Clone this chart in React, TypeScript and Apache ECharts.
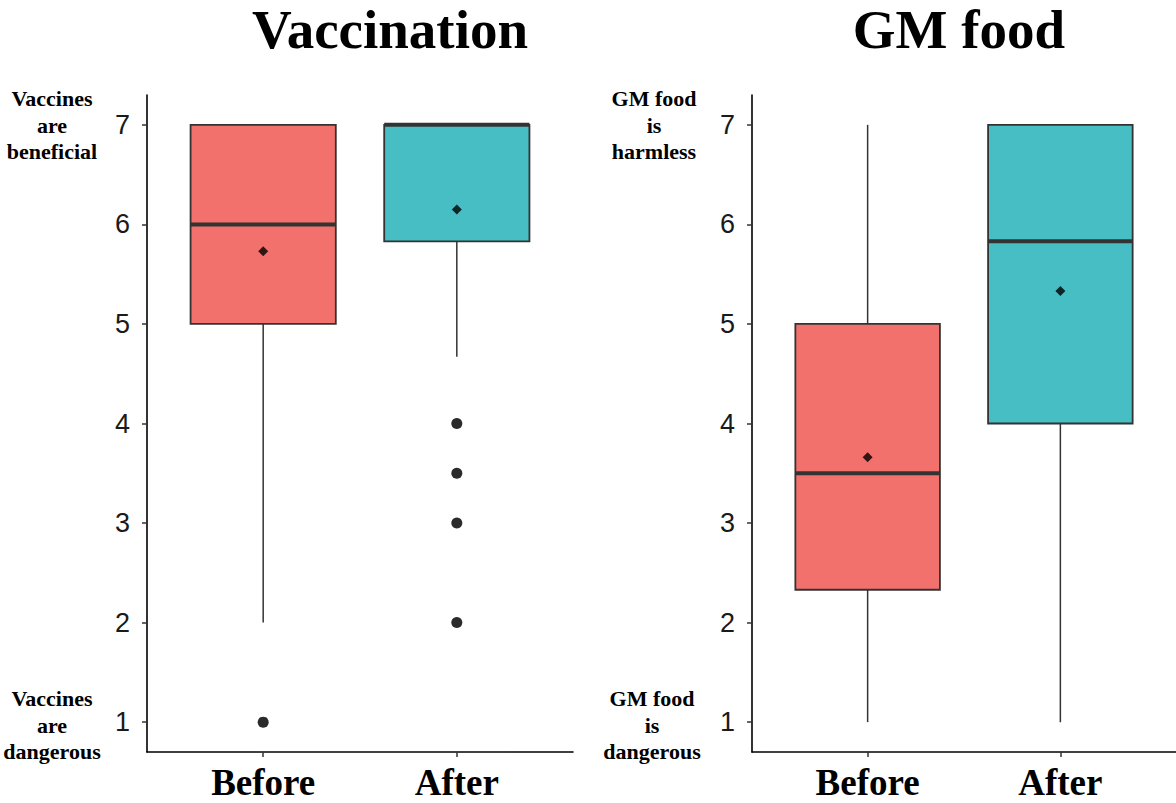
import React, { useEffect, useRef } from "react";
import * as echarts from "echarts";

// ---- data ----
const categories = ["Before", "After"];
const xPositions = [1, 2];
// [lower whisker, Q1, median, Q3, upper whisker]
const vaccinationBoxes = [
  [2, 5, 6, 7, 7],
  [4.67, 5.83, 7, 7, 7],
];
const gmBoxes = [
  [1, 2.33, 3.5, 5, 7],
  [1, 4, 5.83, 7, 7],
];
const vaccinationMeans = [5.73, 6.15];
const gmMeans = [3.66, 5.33];
// outliers: [x position, value]
const vaccinationOutliers = [
  [1, 1],
  [2, 4],
  [2, 3.5],
  [2, 3],
  [2, 2],
];
const gmOutliers: number[][] = [];
const yTicks = [1, 2, 3, 4, 5, 6, 7];
const boxColors = ["#F2716C", "#46BEC4"];

const SERIF = '"Liberation Serif", "Times New Roman", serif';
const SANS = '"Liberation Sans", Arial, sans-serif';

function makeAxes(gridIndex: number) {
  const xAxis = {
    type: "value",
    gridIndex,
    min: 0.4,
    max: 2.6,
    splitLine: { show: false },
    axisLine: { show: true, lineStyle: { color: "#000", width: 1.6 } },
    axisTick: {
      show: true,
      length: 5,
      customValues: xPositions,
      lineStyle: { color: "#333", width: 1.5 },
    },
    axisLabel: {
      customValues: xPositions,
      formatter: (v: number) => categories[Math.round(v) - 1] ?? "",
      fontFamily: SERIF,
      fontWeight: "bold",
      fontSize: 37,
      color: "#000",
      margin: 12,
    },
  };
  const yAxis = {
    type: "value",
    gridIndex,
    min: 0.7,
    max: 7.3,
    splitLine: { show: false },
    axisLine: { show: true, lineStyle: { color: "#000", width: 1.6 } },
    axisTick: {
      show: true,
      length: 5,
      customValues: yTicks,
      lineStyle: { color: "#333", width: 1.5 },
    },
    axisLabel: {
      customValues: yTicks,
      fontFamily: SANS,
      fontSize: 27,
      color: "#1a1a1a",
      margin: 17,
    },
  };
  return { xAxis, yAxis };
}

function boxSeries(idx: number, boxes: number[][]) {
  return {
    type: "custom",
    xAxisIndex: idx,
    yAxisIndex: idx,
    data: boxes.map((b, i) => [xPositions[i], ...b]),
    renderItem: (params: any, api: any) => {
      const x = api.value(0);
      const lo = api.value(1);
      const q1 = api.value(2);
      const med = api.value(3);
      const q3 = api.value(4);
      const hi = api.value(5);
      const hw = 0.375;
      const pHi = api.coord([x, hi]);
      const pQ3 = api.coord([x, q3]);
      const pQ1 = api.coord([x, q1]);
      const pLo = api.coord([x, lo]);
      const left = api.coord([x - hw, q3]);
      const right = api.coord([x + hw, q1]);
      const mL = api.coord([x - hw, med]);
      const mR = api.coord([x + hw, med]);
      const fill = boxColors[params.dataIndex];
      const children: any[] = [];
      if (hi > q3) {
        children.push({
          type: "line",
          shape: { x1: pHi[0], y1: pHi[1], x2: pQ3[0], y2: pQ3[1] },
          style: { stroke: "#333", lineWidth: 1.5 },
        });
      }
      if (lo < q1) {
        children.push({
          type: "line",
          shape: { x1: pQ1[0], y1: pQ1[1], x2: pLo[0], y2: pLo[1] },
          style: { stroke: "#333", lineWidth: 1.5 },
        });
      }
      children.push({
        type: "rect",
        shape: {
          x: left[0],
          y: left[1],
          width: right[0] - left[0],
          height: right[1] - left[1],
        },
        style: { fill, stroke: "#333", lineWidth: 1.8 },
      });
      children.push({
        type: "line",
        shape: { x1: mL[0], y1: mL[1], x2: mR[0], y2: mR[1] },
        style: { stroke: "#333", lineWidth: 4 },
      });
      return { type: "group", children };
    },
    z: 2,
  };
}

function meanSeries(idx: number, means: number[]) {
  return {
    type: "scatter",
    xAxisIndex: idx,
    yAxisIndex: idx,
    symbol: "diamond",
    symbolSize: 10,
    itemStyle: { color: "#000" },
    data: means.map((m, i) => [xPositions[i], m]),
    z: 5,
  };
}

function outlierSeries(idx: number, pts: number[][]) {
  return {
    type: "scatter",
    xAxisIndex: idx,
    yAxisIndex: idx,
    symbol: "circle",
    symbolSize: 11,
    itemStyle: { color: "#2b2b2b", opacity: 1 },
    data: pts,
    z: 5,
  };
}

export default function App() {
  const ref = useRef<HTMLDivElement>(null);
  useEffect(() => {
    if (!ref.current) return;
    const chart = echarts.init(ref.current, undefined, { renderer: "svg" });
    const a0 = makeAxes(0);
    const a1 = makeAxes(1);
    const sideText = (text: string, x: number, y: number) => ({
      type: "text",
      x,
      y,
      style: {
        text,
        textAlign: "center",
        textVerticalAlign: "middle",
        fontFamily: SERIF,
        fontWeight: "bold",
        fontSize: 22,
        lineHeight: 26.5,
        fill: "#000",
      },
    });
    const titleText = (text: string, x: number) => ({
      type: "text",
      x,
      y: 29,
      style: {
        text,
        textAlign: "center",
        textVerticalAlign: "middle",
        fontFamily: SERIF,
        fontWeight: "bold",
        fontSize: 55,
        lineHeight: 50,
        fill: "#000",
      },
    });
    chart.setOption({
      animation: false,
      backgroundColor: "#fff",
      grid: [
        { left: 147, right: 603, top: 95, bottom: 51 },
        { left: 752, right: 0, top: 95, bottom: 51 },
      ],
      xAxis: [a0.xAxis, a1.xAxis],
      yAxis: [a0.yAxis, a1.yAxis],
      series: [
        boxSeries(0, vaccinationBoxes),
        meanSeries(0, vaccinationMeans),
        outlierSeries(0, vaccinationOutliers),
        boxSeries(1, gmBoxes),
        meanSeries(1, gmMeans),
        outlierSeries(1, gmOutliers),
      ],
      graphic: [
        titleText("Vaccination", 390),
        titleText("GM food", 959),
        sideText("Vaccines\nare\nbeneficial", 52, 125),
        sideText("Vaccines\nare\ndangerous", 52, 725),
        sideText("GM food\nis\nharmless", 654, 125),
        sideText("GM food\nis\ndangerous", 652, 725),
      ],
    } as any);
    return () => chart.dispose();
  }, []);
  return (
    <div
      ref={ref}
      style={{
        position: "fixed",
        left: 0,
        top: 0,
        width: 1176,
        height: 803,
        background: "#fff",
      }}
    />
  );
}
